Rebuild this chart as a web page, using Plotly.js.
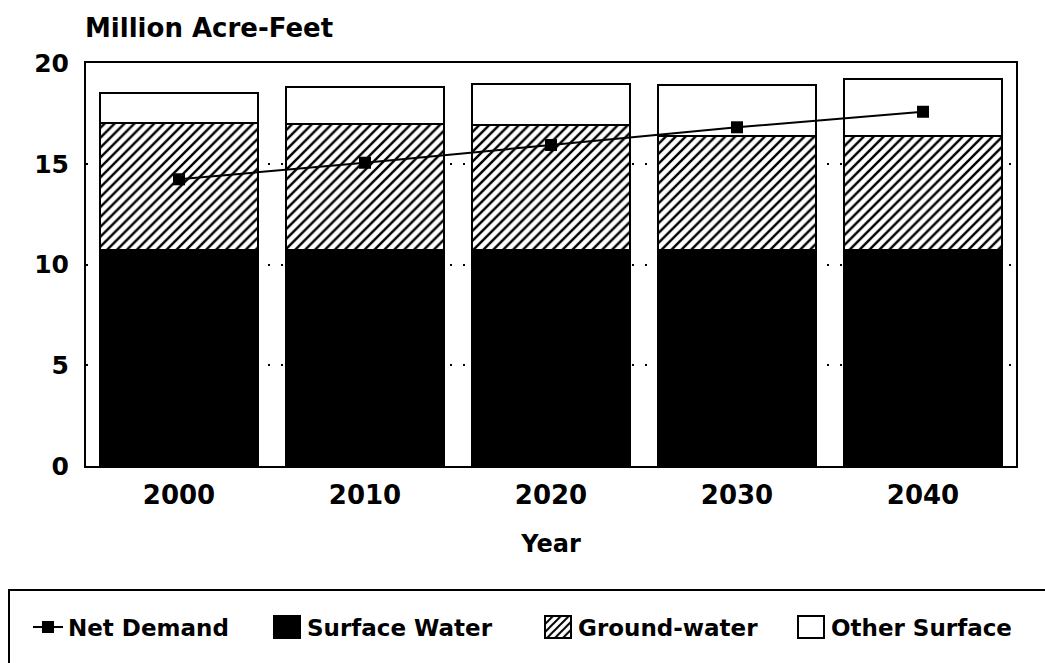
<!DOCTYPE html>
<html>
<head>
<meta charset="utf-8">
<script src="https://cdn.plot.ly/plotly-3.0.1.min.js"></script>
<style>
  html, body { margin: 0; padding: 0; background: #fff; }
  #chart { width: 1045px; height: 663px; }
</style>
</head>
<body>
<div id="chart"></div>
<script>
// ---- data ----
const years = ["2000", "2010", "2020", "2030", "2040"];
const surfaceWater = [10.7, 10.7, 10.7, 10.7, 10.7];
const groundWater = [6.3, 6.25, 6.2, 5.7, 5.7];
const otherSurface = [1.5, 1.85, 2.05, 2.5, 2.8];
const netDemand = [14.23, 15.05, 15.93, 16.81, 17.58];
const yTicks = [0, 5, 10, 15, 20];

const FONT = "DejaVu Sans";
const barLine = { color: "#000", width: 2 };

const traces = [
  {
    type: "scatter", mode: "lines+markers", name: "Net Demand",
    x: years, y: netDemand,
    line: { color: "#000", width: 2 },
    marker: { symbol: "square", size: 12, color: "#000" },
    legendwidth: 194
  },
  {
    type: "bar", name: "Surface Water", x: years, y: surfaceWater,
    marker: { color: "#000", line: barLine },
    legendwidth: 226
  },
  {
    type: "bar", name: "Ground-water", x: years, y: groundWater,
    marker: { color: "#fff", line: barLine,
      pattern: { shape: "/", fgcolor: "#000", bgcolor: "#fff", size: 7, solidity: 0.35 } },
    legendwidth: 208
  },
  {
    type: "bar", name: "Other Surface", x: years, y: otherSurface,
    marker: { color: "#fff", line: barLine },
    legendwidth: 205
  }
];

const layout = {
  width: 1045, height: 663,
  paper_bgcolor: "#fff", plot_bgcolor: "#fff",
  margin: { l: 86, r: 29, t: 63, b: 197, pad: 0, autoexpand: false },
  barmode: "stack", bargap: 0.15,
  font: { family: FONT, color: "#000", weight: "bold" },
  title: {
    text: "Million Acre-Feet",
    font: { family: FONT, size: 26, color: "#000", weight: "bold" },
    xref: "container", yref: "container",
    x: 85 / 1045, xanchor: "left",
    y: 1 - 28 / 663, yanchor: "middle"
  },
  xaxis: {
    type: "category", categoryorder: "array", categoryarray: years,
    showline: true, linecolor: "#000", linewidth: 2, mirror: true,
    ticks: "", showgrid: false, zeroline: false,
    tickfont: { family: FONT, size: 26, color: "#000", weight: "bold" },
    ticklabelstandoff: 5,
    title: { text: "Year", font: { family: FONT, size: 24, color: "#000", weight: "bold" }, standoff: 26 }
  },
  yaxis: {
    range: [0, 20], tickvals: yTicks, ticktext: yTicks.map(String),
    showline: true, linecolor: "#000", linewidth: 2, mirror: true,
    ticks: "", zeroline: false,
    showgrid: true, gridcolor: "#000", gridwidth: 2, griddash: "2px,11px",
    tickfont: { family: FONT, size: 25, color: "#000", weight: "bold" },
    ticklabelstandoff: 10
  },
  showlegend: true,
  legend: {
    orientation: "h", traceorder: "normal",
    xref: "paper", yref: "paper",
    x: (28 - 86) / 930, xanchor: "left",
    y: (466 - 627) / 403, yanchor: "middle",
    bgcolor: "rgba(0,0,0,0)", borderwidth: 0,
    font: { family: FONT, size: 23, color: "#000", weight: "bold" },
    itemclick: false, itemdoubleclick: false
  },
  shapes: [
    {
      type: "rect", xref: "paper", yref: "paper",
      x0: -77 / 930, x1: 1100 / 930,
      y0: -240 / 403, y1: -124 / 403,
      line: { color: "#000", width: 2 }, fillcolor: "rgba(0,0,0,0)", layer: "below"
    }
  ]
};

Plotly.newPlot("chart", traces, layout, { staticPlot: true, displayModeBar: false }).then(function (gd) {
  // enlarge legend swatches for bar traces to match the reference
  gd.querySelectorAll(".legend path.legendbar, .legend path.legendundefined").forEach(function (p) {
    p.setAttribute("d", "M13,11H-13V-11H13Z");
  });
});
</script>
</body>
</html>
